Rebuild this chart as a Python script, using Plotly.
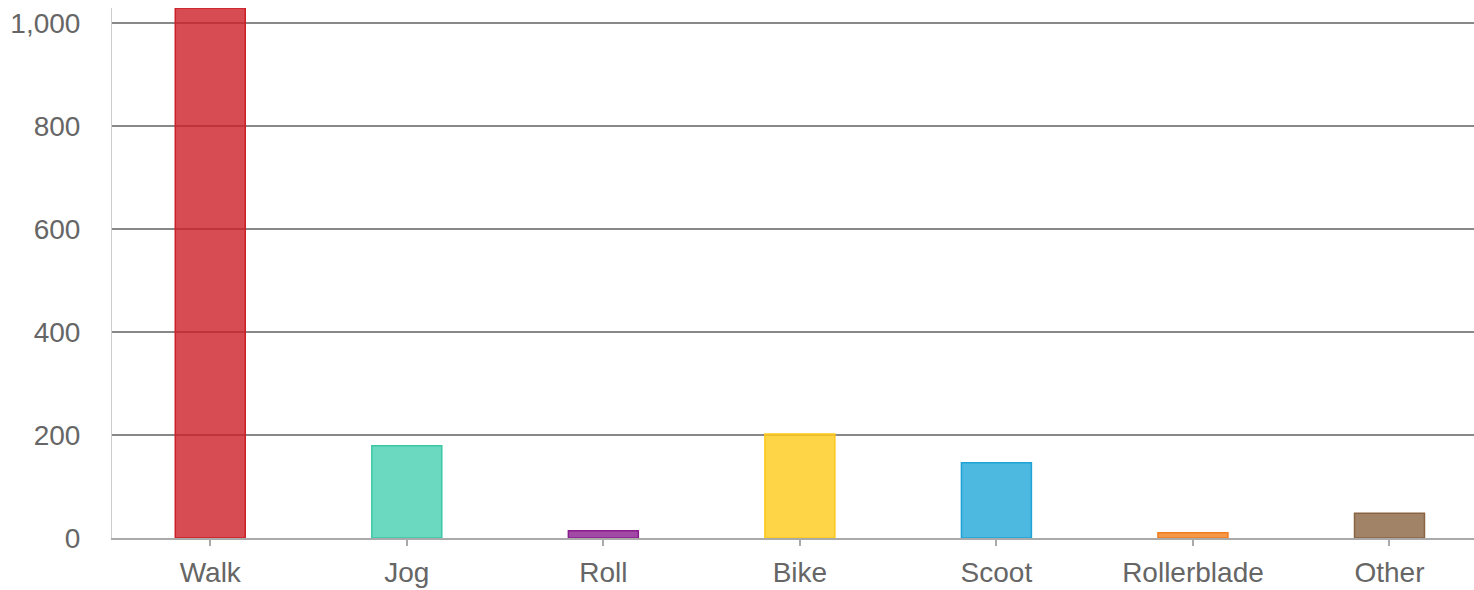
import plotly.graph_objects as go

categories = ["Walk", "Jog", "Roll", "Bike", "Scoot", "Rollerblade", "Other"]
values = [1029, 179, 14, 202, 146, 10, 48]
fill_colors = ["rgba(204,31,39,0.8)", "rgba(69,207,176,0.8)", "rgba(138,28,142,0.8)",
               "rgba(255,202,26,0.8)", "rgba(33,168,216,0.8)", "rgba(242,126,29,0.8)",
               "rgba(138,100,66,0.8)"]
line_colors = ["#CC1F27", "#3CC6A6", "#8A1C8E", "#FFC81C", "#1FA3D6", "#F07E1E", "#8A6442"]
y_ticks = [0, 200, 400, 600, 800, 1000]
y_tick_text = ["0", "200", "400", "600", "800", "1,000"]

fig = go.Figure(
    go.Bar(
        x=categories,
        y=values,
        marker=dict(color=fill_colors,
                    line=dict(color=line_colors, width=1.5)),
        width=0.356,
    )
)

font = dict(family="Liberation Sans, Arial, sans-serif", size=28, color="#666666")

fig.update_layout(
    width=1474, height=590,
    margin=dict(l=112, r=0, t=8, b=52),
    plot_bgcolor="white", paper_bgcolor="white",
    font=font,
    showlegend=False,
)
fig.update_xaxes(
    range=[-0.5, 6.43],
    showline=True, linecolor="#AAAAAA", linewidth=2,
    ticks="outside", ticklen=6, tickcolor="#AAAAAA", tickwidth=1.5,
    showgrid=False, ticklabelstandoff=2, automargin=False,
)
fig.update_yaxes(
    range=[0, 1029], tickvals=y_ticks, ticktext=y_tick_text,
    showline=True, linecolor="#CCCCCC", linewidth=1,
    showgrid=True, gridcolor="#888888", gridwidth=1.5,
    zeroline=False, ticks="", ticklabelstandoff=25, automargin=False,
)

fig.write_html("out.html", config={"displayModeBar": False},
               post_script="document.body.style.margin='0px';document.body.style.overflow='hidden';")
